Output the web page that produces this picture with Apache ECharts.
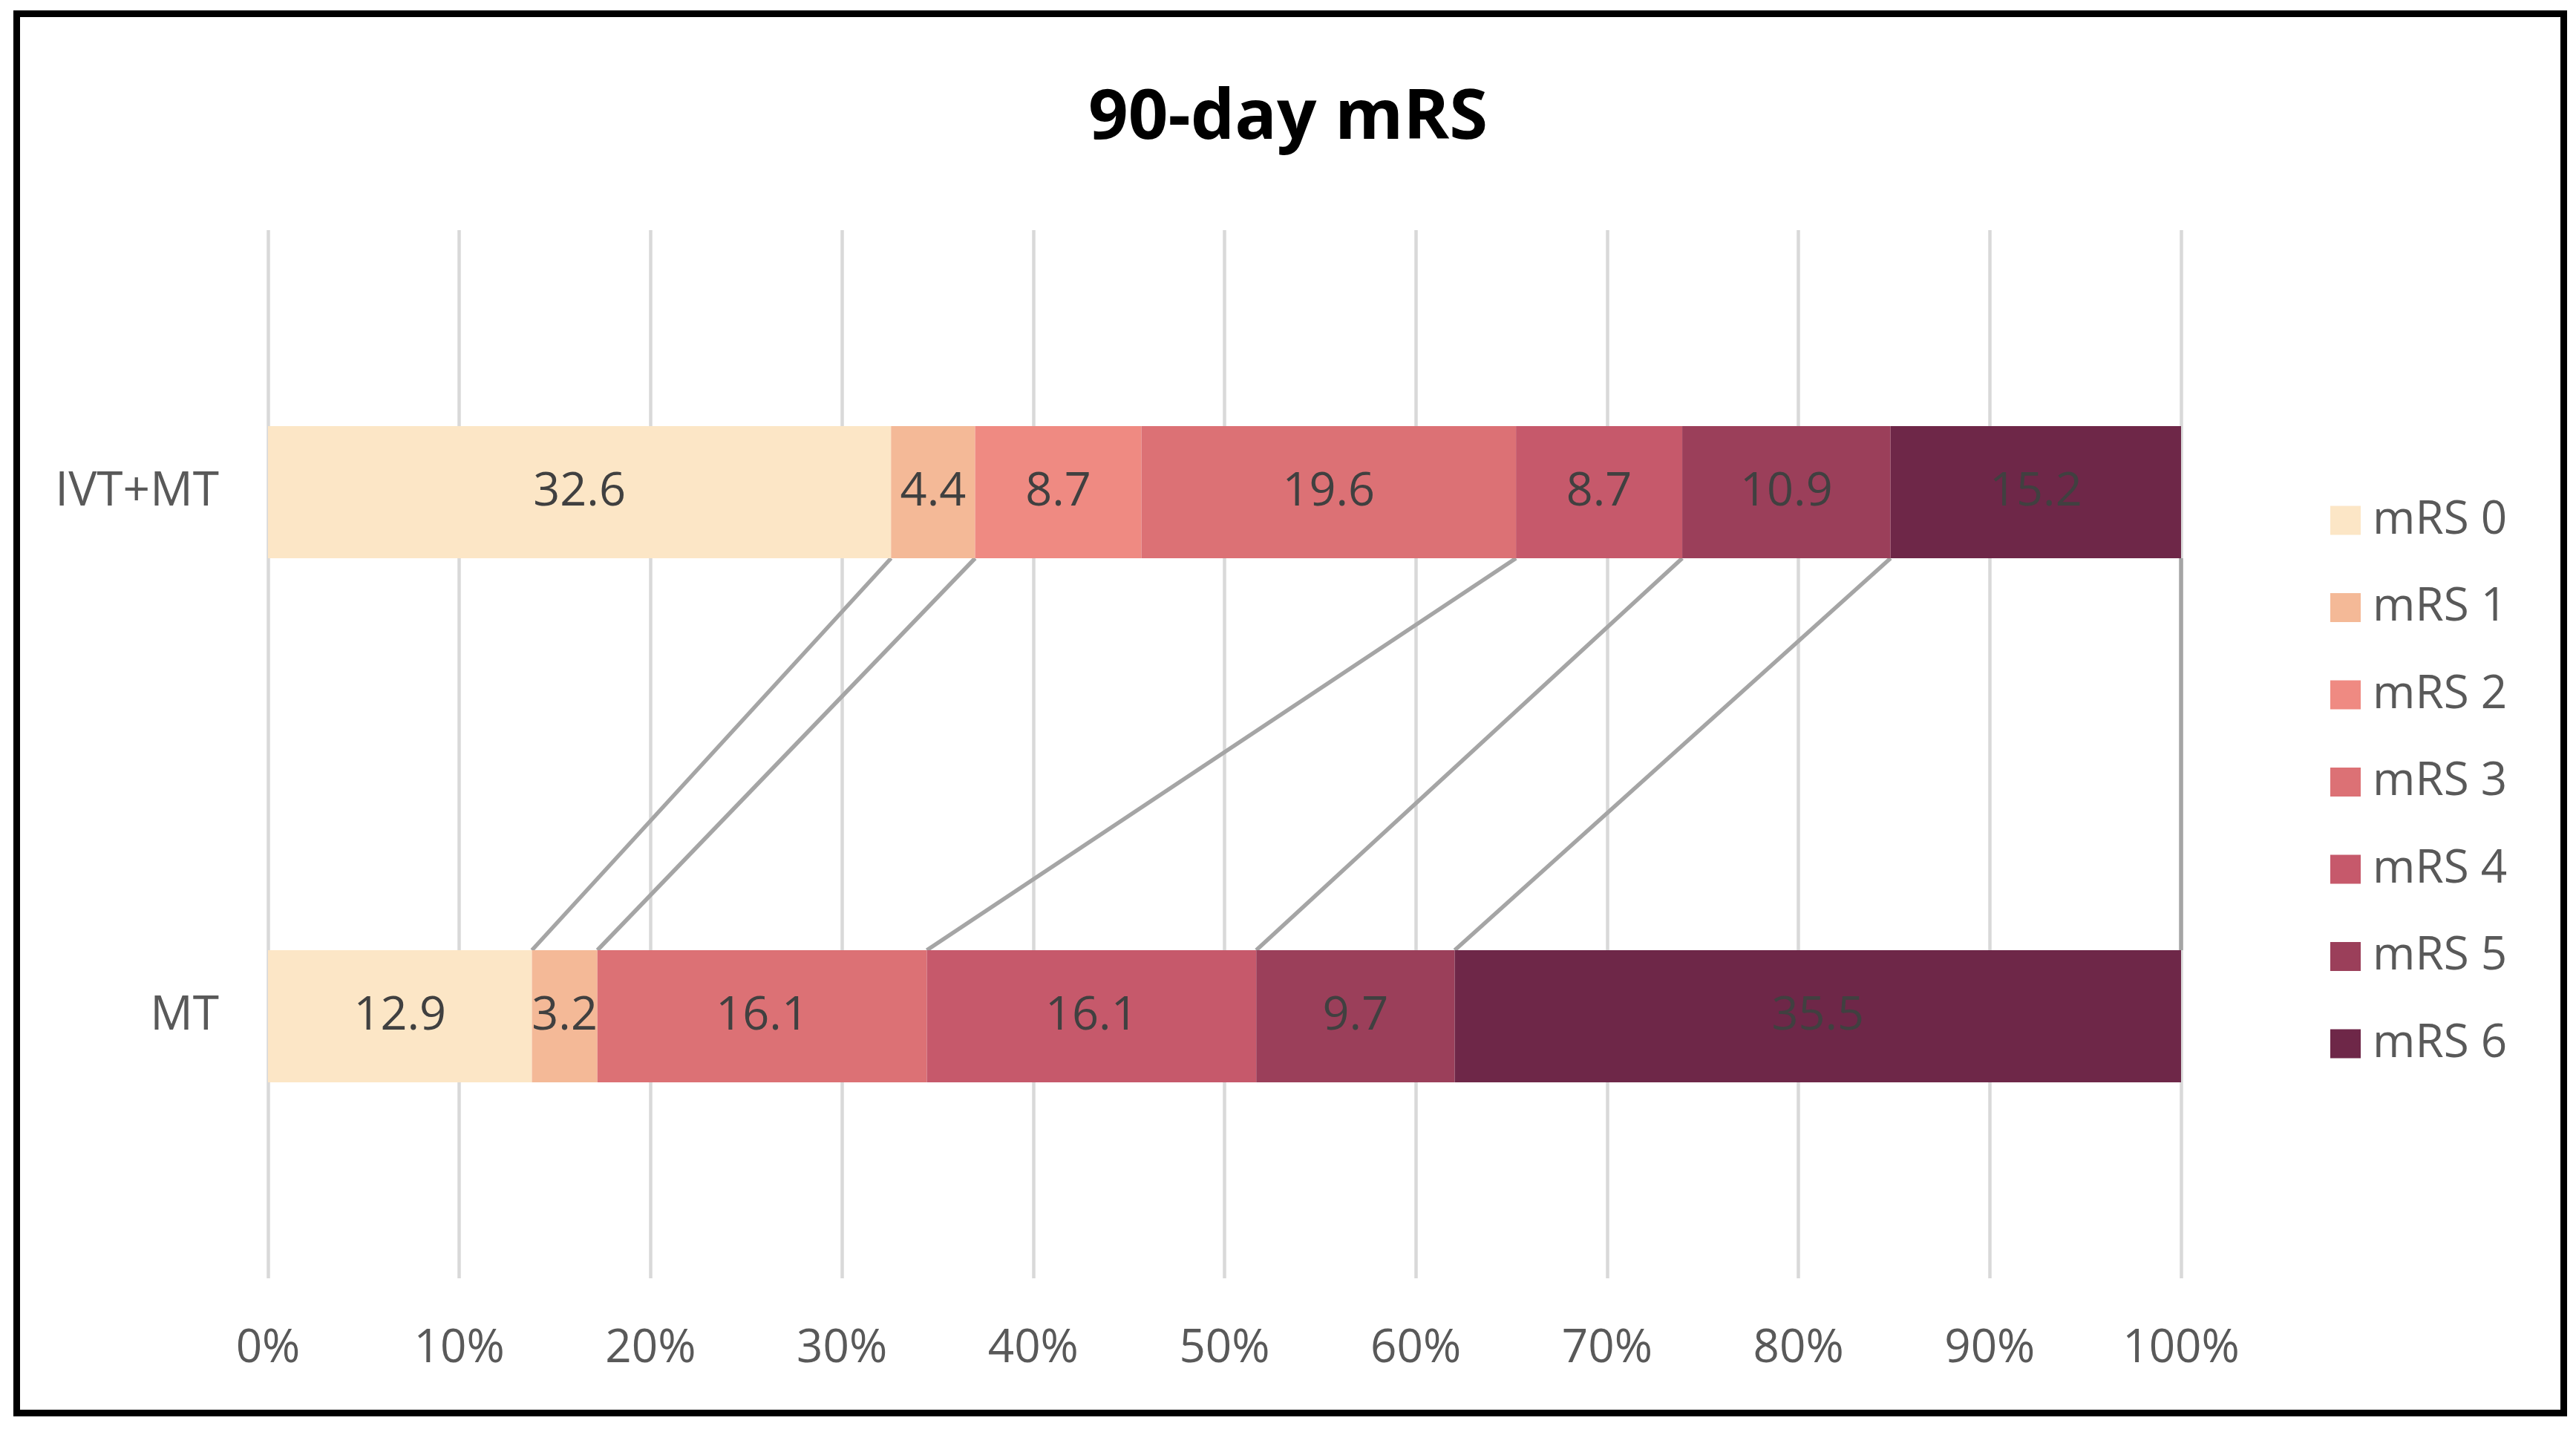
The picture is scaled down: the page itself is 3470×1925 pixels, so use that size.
<!DOCTYPE html>
<html>
<head>
<meta charset="utf-8">
<script src="https://cdn.jsdelivr.net/npm/echarts@6/dist/echarts.min.js"></script>
<style>
html,body{margin:0;padding:0;background:#fff;}
#chart{width:3470px;height:1925px;}
</style>
</head>
<body>
<div id="chart"></div>
<script>
// ---- data ----
const categories = ['IVT+MT', 'MT'];
const seriesNames = ['mRS 0', 'mRS 1', 'mRS 2', 'mRS 3', 'mRS 4', 'mRS 5', 'mRS 6'];
const ivtmtValues = [32.6, 4.4, 8.7, 19.6, 8.7, 10.9, 15.2];
const mtValues = [12.9, 3.2, null, 16.1, 16.1, 9.7, 35.5];
const xTickValues = [0, 10, 20, 30, 40, 50, 60, 70, 80, 90, 100];
const colors = ['#FCE6C6', '#F4B997', '#EF8A82', '#DC7175', '#C6596B', '#9B3F5A', '#6E2748'];

// ---- derived (100% stacked normalisation) ----
const rows = [ivtmtValues, mtValues];
function normalise(arr) {
  const total = arr.reduce((s, v) => s + (v == null ? 0 : v), 0);
  return arr.map(v => (v == null ? null : v / total * 100));
}
const pctRows = rows.map(normalise);
function cumulative(arr) {
  let c = 0;
  return arr.map(v => { if (v != null) c += v; return c; });
}
const cumRows = pctRows.map(cumulative);
const connectorData = [];
for (let i = 0; i < seriesNames.length; i++) {
  if (rows[0][i] != null && rows[1][i] != null) {
    connectorData.push([cumRows[0][i], cumRows[1][i], 0]);
  }
}

const FONT = '"Open Sans", sans-serif';
const BAR_W = 178;

const barSeries = seriesNames.map((name, i) => ({
  name: name,
  type: 'bar',
  stack: 'total',
  barWidth: BAR_W,
  itemStyle: { color: colors[i] },
  label: {
    show: true,
    position: 'inside',
    color: '#404040',
    fontFamily: FONT,
    fontSize: 63,
    formatter: p => {
      const v = rows[p.dataIndex][i];
      return v == null ? '' : String(v);
    }
  },
  emphasis: { disabled: true },
  data: pctRows.map(r => (r[i] == null ? '-' : r[i])),
  z: 3
}));

const connectorSeries = {
  type: 'custom',
  name: 'connectors',
  coordinateSystem: 'cartesian2d',
  encode: { x: [0, 1], y: 2 },
  silent: true,
  z: 2,
  renderItem: function (params, api) {
    const top = api.coord([api.value(0), 0]);
    const bot = api.coord([api.value(1), 1]);
    const half = BAR_W / 2;
    return {
      type: 'line',
      shape: { x1: top[0], y1: top[1] + half, x2: bot[0], y2: bot[1] - half },
      style: { stroke: '#A5A5A5', lineWidth: 5.5 }
    };
  },
  data: connectorData
};

const chart = echarts.init(document.getElementById('chart'), null, { renderer: 'canvas' });
chart.setOption({
  backgroundColor: '#ffffff',
  animation: false,
  title: {
    text: '90-day mRS',
    left: 'center',
    top: 110,
    padding: 0,
    textStyle: { fontFamily: FONT, fontWeight: 'bold', fontSize: 94, lineHeight: 100, color: '#000000' }
  },
  legend: {
    orient: 'vertical',
    left: 3134,
    top: 665,
    icon: 'rect',
    itemWidth: 41,
    itemHeight: 39,
    itemGap: 55.5,
    data: seriesNames,
    selectedMode: false,
    textStyle: { fontFamily: FONT, fontSize: 62, color: '#595959', padding: [0, 0, 0, 11] }
  },
  grid: { left: 361, right: 532, top: 310, bottom: 203, containLabel: false },
  xAxis: {
    type: 'value',
    min: xTickValues[0],
    max: xTickValues[xTickValues.length - 1],
    interval: xTickValues[1] - xTickValues[0],
    axisLine: { show: false },
    axisTick: { show: false },
    splitLine: { show: true, lineStyle: { color: '#D9D9D9', width: 4.5 } },
    axisLabel: { formatter: '{value}%', fontFamily: FONT, fontSize: 62, color: '#595959', margin: 64 }
  },
  yAxis: {
    type: 'category',
    data: categories,
    inverse: true,
    axisLine: { show: false },
    axisTick: { show: false },
    splitLine: { show: false },
    axisLabel: { fontFamily: FONT, fontSize: 64, color: '#595959', margin: 66 }
  },
  graphic: [{
    type: 'rect',
    shape: { x: 22.5, y: 18.5, width: 3431, height: 1885 },
    style: { fill: 'none', stroke: '#000000', lineWidth: 9 },
    silent: true,
    z: 100
  }],
  series: barSeries.concat([connectorSeries])
});
</script>
</body>
</html>
